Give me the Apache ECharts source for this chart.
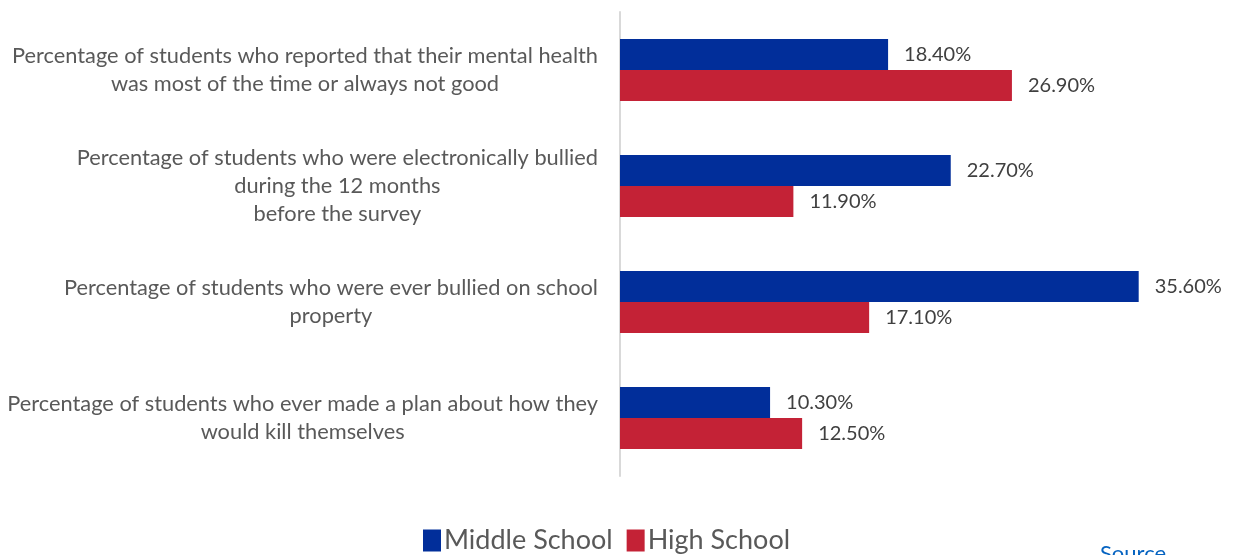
<!DOCTYPE html>
<html><head><meta charset="utf-8">
<script src="https://cdn.jsdelivr.net/npm/echarts@6/dist/echarts.min.js"></script>
<style>html,body{margin:0;padding:0;background:#fff}#c{width:1234px;height:555px}</style>
</head><body><div id="c"></div>
<script>
const categories = [
  "Percentage of students who reported that their mental health\nwas most of the time or always not good",
  "Percentage of students who were electronically bullied\nduring the 12 months\nbefore the survey",
  "Percentage of students who were ever bullied on school\nproperty",
  "Percentage of students who ever made a plan about how they\nwould kill themselves"
];
const middleSchool = [18.4, 22.7, 35.6, 10.3];
const highSchool = [26.9, 11.9, 17.1, 12.5];
const seriesNames = ["Middle School", "High School"];

const FONT = 'Lato';
const catFontSize = 21.8;
const cv = document.createElement('canvas').getContext('2d');
cv.font = catFontSize + 'px ' + FONT;
const rich = {};
categories.forEach((c, i) => {
  const w = Math.max(...c.split('\n').map(l => cv.measureText(l).width)) + 2;
  rich['c' + i] = {width: w, align: 'center', fontSize: catFontSize, fontFamily: FONT, color: '#595959', lineHeight: 28};
});

const chart = echarts.init(document.getElementById('c'));
chart.setOption({
  animation: false,
  grid: {left: 620, top: 12, bottom: 79, width: 14.57 * 40},
  xAxis: {type: 'value', min: 0, max: 40, show: false},
  yAxis: {
    type: 'category', data: categories, inverse: true,
    axisLine: {show: true, lineStyle: {color: '#d9d9d9', width: 2}},
    axisTick: {show: false},
    axisLabel: {
      margin: 21, align: 'right',
      formatter: (v, i) => v.split('\n').map(l => '{c' + i + '|' + l + '}').join('\n'),
      rich: rich
    }
  },
  legend: {
    top: 522, left: 418, itemWidth: 18, itemHeight: 22, itemGap: 14,
    icon: 'rect',
    textStyle: {fontFamily: FONT, fontSize: 27, color: '#595959', padding: [0, 0, 0, -2]},
    data: seriesNames
  },
  graphic: [{type: 'text', left: 1100, top: 543, style: {text: 'Source', fill: '#0563C1', font: '22px ' + FONT}}],
  series: [
    {name: seriesNames[0], type: 'bar', data: middleSchool, barWidth: 31, barGap: '0%',
     itemStyle: {color: '#012E9A'},
     label: {show: true, position: 'right', distance: 16, formatter: p => p.value.toFixed(2) + '%', fontFamily: FONT, fontSize: 20, color: '#404040'}},
    {name: seriesNames[1], type: 'bar', data: highSchool, barWidth: 31, barGap: '0%',
     itemStyle: {color: '#C42236'},
     label: {show: true, position: 'right', distance: 16, formatter: p => p.value.toFixed(2) + '%', fontFamily: FONT, fontSize: 20, color: '#404040'}}
  ]
});
</script></body></html>
